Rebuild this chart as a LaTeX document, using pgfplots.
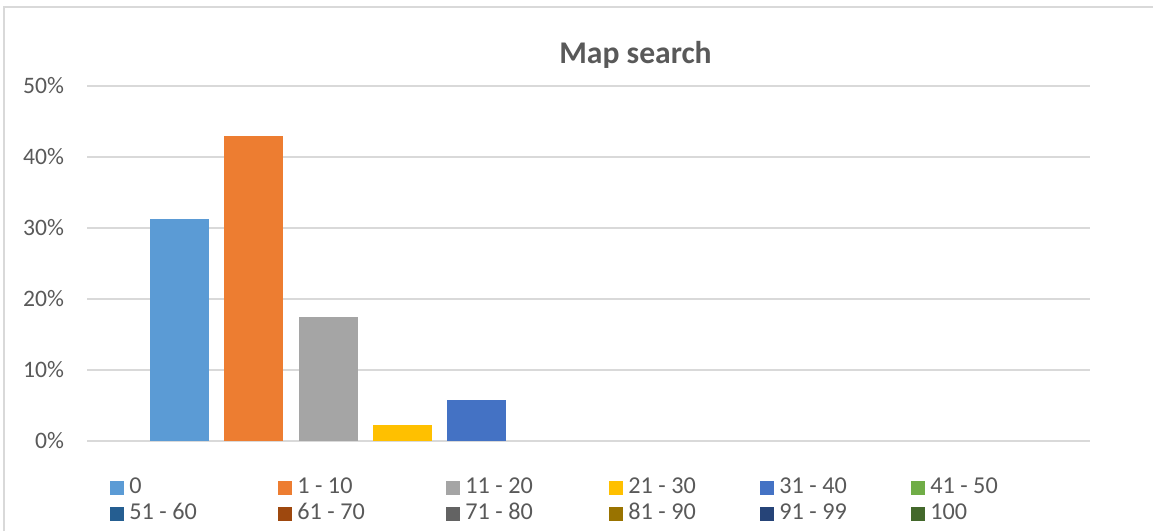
\documentclass[border=0pt]{standalone}
\usepackage{pgfplots}
\pgfplotsset{compat=1.18}
\usepackage{fontspec}
\setmainfont{Carlito}
\definecolor{txt}{HTML}{595959}
\definecolor{gridc}{HTML}{D9D9D9}
\definecolor{c1}{HTML}{5B9BD5}
\definecolor{c2}{HTML}{ED7D31}
\definecolor{c3}{HTML}{A5A5A5}
\definecolor{c4}{HTML}{FFC000}
\definecolor{c5}{HTML}{4472C4}
\definecolor{c6}{HTML}{70AD47}
\definecolor{c7}{HTML}{255E91}
\definecolor{c8}{HTML}{9E480E}
\definecolor{c9}{HTML}{636363}
\definecolor{c10}{HTML}{997300}
\definecolor{c11}{HTML}{264478}
\definecolor{c12}{HTML}{43682B}
\newcommand{\legbox}[2]{\makebox[#1][l]{\hspace{2.5pt}#2}}
\begin{document}
\begin{tikzpicture}
\useasboundingbox (0,0) rectangle (576.5pt,265.5pt);
\draw[gridc, line width=1pt] (2pt,0) -- (2pt,262pt) -- (576.5pt,262pt);
\node[anchor=base, text=txt, font=\fontsize{15.8}{18}\selectfont\bfseries] at (317.75pt,233.5pt) {Map search};
\begin{axis}[
  at={(43.5pt,45pt)}, anchor=south west,
  scale only axis, width=501.5pt, height=177.5pt,
  xmin=-1.246, xmax=12.26, ymin=0, ymax=50,
  ytick={0,10,20,30,40,50},
  yticklabels={0\%,10\%,20\%,30\%,40\%,50\%},
  xtick=\empty,
  ymajorgrids, grid style={gridc, line width=0.75pt},
  axis line style={draw=none},
  major tick length=0pt,
  tick label style={text=txt, font=\fontsize{11.8}{14}\selectfont},
  yticklabel style={xshift=-8pt},
  ybar, bar width=29.5pt, bar shift=0pt,
  every axis plot/.append style={draw=none},
  legend columns=6,
  legend style={at={(0.0229,-0.0963)}, anchor=north west, draw=none, fill=none,
    inner sep=0pt, column sep=0pt, row sep=0pt,
    font=\fontsize{12.1}{14}\selectfont, text=txt,
    nodes={inner sep=0pt, text height=9pt, text depth=4pt, anchor=base west}},
  legend image code/.code={\fill[#1] (0pt,-0.5pt) rectangle (7pt,6.5pt);},
]
\addplot[fill=c1] coordinates {(0,31.3)};
\addplot[fill=c2] coordinates {(1,43.0)};
\addplot[fill=c3] coordinates {(2,17.4)};
\addplot[fill=c4] coordinates {(3,2.3)};
\addplot[fill=c5] coordinates {(4,5.8)};
\addplot[forget plot, fill=none] coordinates {(5,0)};
\addplot[forget plot, fill=none] coordinates {(6,0)};
\addplot[forget plot, fill=none] coordinates {(7,0)};
\addplot[forget plot, fill=none] coordinates {(8,0)};
\addplot[forget plot, fill=none] coordinates {(9,0)};
\addplot[forget plot, fill=none] coordinates {(10,0)};
\addplot[forget plot, fill=none] coordinates {(11,0)};
\addlegendimage{fill=c6}
\addlegendimage{fill=c7}
\addlegendimage{fill=c8}
\addlegendimage{fill=c9}
\addlegendimage{fill=c10}
\addlegendimage{fill=c11}
\addlegendimage{fill=c12}
\addlegendentry{\legbox{77pt}{0}}
\addlegendentry{\legbox{77pt}{1 - 10}}
\addlegendentry{\legbox{74.5pt}{11 - 20}}
\addlegendentry{\legbox{68.5pt}{21 - 30}}
\addlegendentry{\legbox{68.5pt}{31 - 40}}
\addlegendentry{\legbox{30pt}{41 - 50}}
\addlegendentry{\legbox{77pt}{51 - 60}}
\addlegendentry{\legbox{77pt}{61 - 70}}
\addlegendentry{\legbox{74.5pt}{71 - 80}}
\addlegendentry{\legbox{68.5pt}{81 - 90}}
\addlegendentry{\legbox{68.5pt}{91 - 99}}
\addlegendentry{\legbox{30pt}{100}}
\end{axis}
\end{tikzpicture}
\end{document}
